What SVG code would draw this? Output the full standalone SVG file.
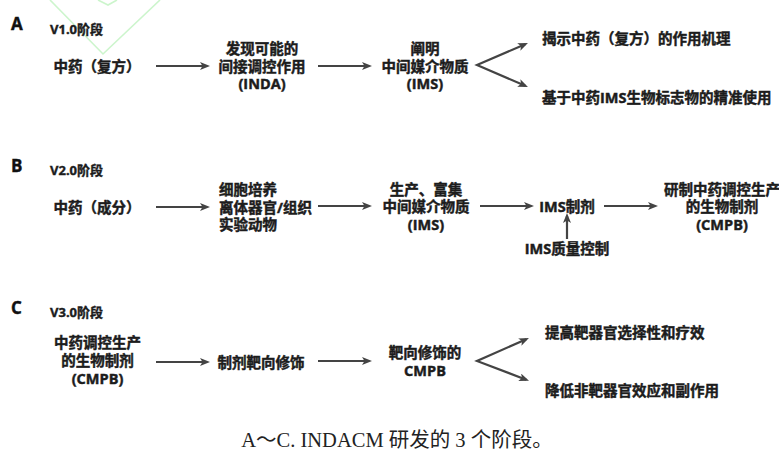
<svg xmlns="http://www.w3.org/2000/svg" width="779" height="451" viewBox="0 0 779 451">
<style>
  .t { font-family: "Open Sans", "Noto Sans CJK SC", sans-serif; font-weight: bold; font-size: 14.5px; fill: #1c1c1c; stroke: #1c1c1c; stroke-width: 0.45; dominant-baseline: central; }
  .c { text-anchor: middle; }
  .sec { font-family: "Open Sans", "Noto Sans CJK SC", sans-serif; font-weight: bold; font-size: 17px; fill: #111; stroke: #111; stroke-width: 0.4; dominant-baseline: central; }
  .stage { font-family: "Open Sans", "Noto Sans CJK SC", sans-serif; font-weight: bold; font-size: 13px; fill: #1c1c1c; stroke: #1c1c1c; stroke-width: 0.4; dominant-baseline: central; }
  .cap { font-family: "Liberation Serif", "Noto Sans CJK SC", serif; font-size: 20.5px; fill: #222; text-anchor: middle; }
  .ar { fill: none; stroke: #444; stroke-width: 2.2; marker-end: url(#ah); }
  .fork { fill: none; stroke: #444; stroke-width: 2.2; stroke-linejoin: miter; marker-start: url(#ah); marker-end: url(#ah); }
  .wm { fill: none; stroke: #ccf5cc; stroke-width: 1.6; }
</style>
<defs>
  <marker id="ah" viewBox="0 0 10 8" refX="7" refY="4" markerWidth="10" markerHeight="8" markerUnits="userSpaceOnUse" orient="auto-start-reverse">
    <path d="M0,0 L10,4 L0,8 L2.5,4 Z" fill="#444"/>
  </marker>
</defs>
<rect width="779" height="451" fill="#fff"/>
<g id="watermark">
  <polyline class="wm" points="50,0 103,54 160,0"/>
  <polyline class="wm" points="98,0 108,5 117,0"/>
</g>
<g id="connectors">
  <line class="ar" x1="156" y1="66" x2="207" y2="66"/>
  <line class="ar" x1="318" y1="66" x2="369" y2="66"/>
  <path class="fork" d="M525.2,44.2 L477,65 L525.2,85.8"/>
  <line class="ar" x1="156" y1="207" x2="207" y2="207"/>
  <line class="ar" x1="318" y1="206" x2="369" y2="206"/>
  <line class="ar" x1="480" y1="206" x2="531" y2="206"/>
  <line class="ar" x1="604" y1="206" x2="655" y2="206"/>
  <line class="ar" x1="567" y1="239" x2="567" y2="216"/>
  <line class="ar" x1="156" y1="362" x2="207" y2="362"/>
  <line class="ar" x1="318" y1="361" x2="369" y2="361"/>
  <path class="fork" d="M526.2,339.2 L477,361 L526.2,379.7"/>
</g>
<g id="secA">
  <text class="sec" x="11" y="23.5">A</text>
  <text class="stage" x="50" y="29">V1.0阶段</text>
</g>
<g id="nA1"><text class="t c" x="97" y="66">中药（复方）</text></g>
<g id="nA2"><text class="t c" x="262" y="48.5">发现可能的</text><text class="t c" x="262" y="66">间接调控作用</text><text class="t c" x="262" y="83.5">(INDA)</text></g>
<g id="nA3"><text class="t c" x="425" y="48.5">阐明</text><text class="t c" x="425" y="66">中间媒介物质</text><text class="t c" x="425" y="83.5">(IMS)</text></g>
<g id="nA4"><text class="t" x="542" y="38">揭示中药（复方）的作用机理</text></g>
<g id="nA5"><text class="t" x="542" y="97">基于中药IMS生物标志物的精准使用</text></g>

<g id="secB">
  <text class="sec" x="11" y="165">B</text>
  <text class="stage" x="50" y="170">V2.0阶段</text>
</g>
<g id="nB1"><text class="t c" x="97" y="207">中药（成分）</text></g>
<g id="nB2"><text class="t" x="219" y="189.5">细胞培养</text><text class="t" x="219" y="207">离体器官/组织</text><text class="t" x="219" y="224.5">实验动物</text></g>
<g id="nB3"><text class="t c" x="426" y="189">生产、富集</text><text class="t c" x="426" y="206.5">中间媒介物质</text><text class="t c" x="426" y="224">(IMS)</text></g>
<g id="nB4"><text class="t c" x="567" y="206">IMS制剂</text></g>
<g id="nB5"><text class="t c" x="722" y="189">研制中药调控生产</text><text class="t c" x="722" y="206.5">的生物制剂</text><text class="t c" x="722" y="224">(CMPB)</text></g>
<g id="nB6"><text class="t c" x="567" y="248">IMS质量控制</text></g>

<g id="secC">
  <text class="sec" x="11" y="307">C</text>
  <text class="stage" x="50" y="312">V3.0阶段</text>
</g>
<g id="nC1"><text class="t c" x="97.5" y="342">中药调控生产</text><text class="t c" x="97.5" y="360">的生物制剂</text><text class="t c" x="97.5" y="378">(CMPB)</text></g>
<g id="nC2"><text class="t c" x="261" y="362">制剂靶向修饰</text></g>
<g id="nC3"><text class="t c" x="425" y="352">靶向修饰的</text><text class="t c" x="425" y="370">CMPB</text></g>
<g id="nC4"><text class="t" x="545" y="332">提高靶器官选择性和疗效</text></g>
<g id="nC5"><text class="t" x="545" y="390">降低非靶器官效应和副作用</text></g>

<g id="caption"><text class="cap" x="397" y="447">A～C. INDACM 研发的 3 个阶段。</text></g>
</svg>
